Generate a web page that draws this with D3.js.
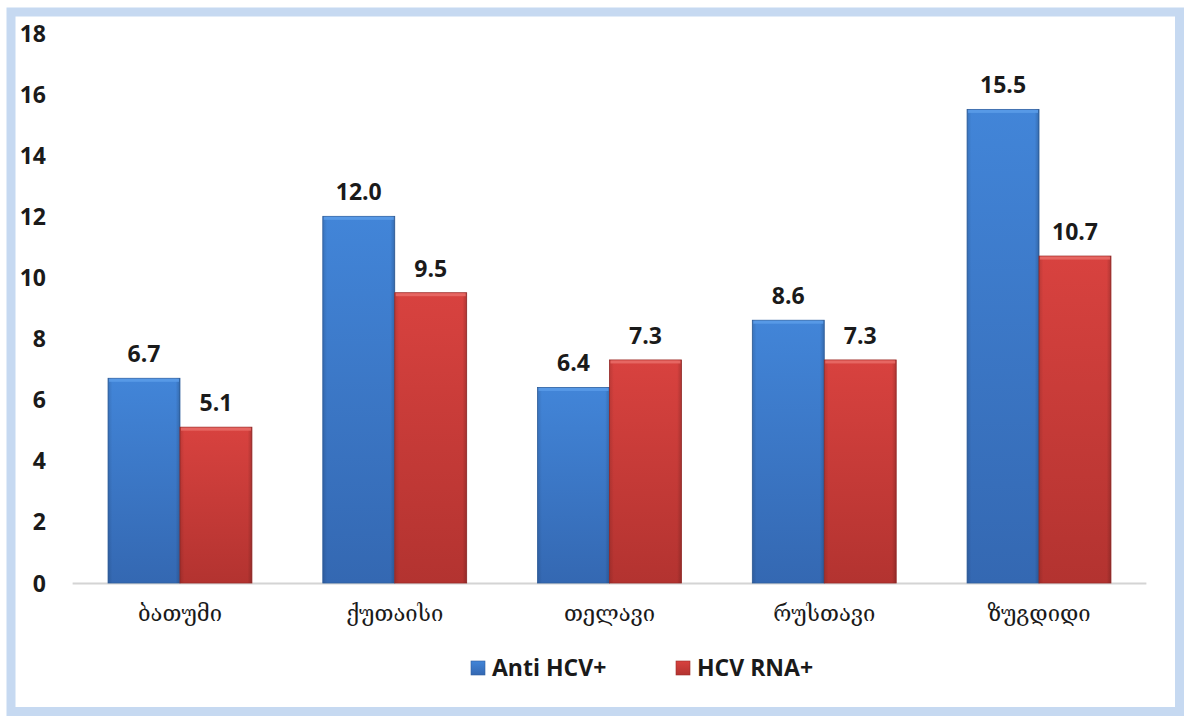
<!DOCTYPE html>
<html>
<head>
<meta charset="utf-8">
<script src="https://cdn.jsdelivr.net/npm/d3@7"></script>
<style>
  html, body { margin: 0; padding: 0; background: #ffffff; }
  svg { display: block; }
</style>
</head>
<body>
<svg id="chart" width="1184" height="716"></svg>
<script>
// Cities (Georgian names) and the two HCV indicators per city
const cities = ["ბათუმი", "ქუთაისი", "თელავი", "რუსთავი", "ზუგდიდი"];
const antiHcv = [6.7, 12.0, 6.4, 8.6, 15.5];
const hcvRna = [5.1, 9.5, 7.3, 7.3, 10.7];
const seriesNames = ["Anti HCV+", "HCV RNA+"];
const yTicks = [0, 2, 4, 6, 8, 10, 12, 14, 16, 18];

const svg = d3.select("#chart");
const W = 1184, H = 716;

// Light blue frame around the chart area
svg.append("rect")
  .attr("x", 11).attr("y", 12)
  .attr("width", W - 11 - 4.5).attr("height", H - 12 - 4.5)
  .attr("fill", "#ffffff")
  .attr("stroke", "#c6d9f1")
  .attr("stroke-width", 9);

const margin = { left: 72.6, right: 1146.4, top: 33, bottom: 583 };

const x0 = d3.scaleBand()
  .domain(cities)
  .range([margin.left, margin.right])
  .paddingInner(0.33)
  .paddingOuter(0.165);

const x1 = d3.scaleBand()
  .domain([0, 1])
  .range([0, x0.bandwidth()]);

const y = d3.scaleLinear()
  .domain([0, 18])
  .range([margin.bottom, margin.top]);

// Gradients giving the bars a bevelled look
const defs = svg.append("defs");
const palettes = [
  { id: "blue", light: "#5a9be8", mid: "#4285d8", dark: "#3468b2", edge: "#2f5f9e" },
  { id: "red",  light: "#e86a66", mid: "#d8423f", dark: "#b33330", edge: "#9c2c2a" }
];
palettes.forEach(p => {
  const g = defs.append("linearGradient")
    .attr("id", "grad-" + p.id)
    .attr("x1", 0).attr("y1", 0).attr("x2", 0).attr("y2", 1);
  g.append("stop").attr("offset", "0%").attr("stop-color", p.mid);
  g.append("stop").attr("offset", "100%").attr("stop-color", p.dark);

  const side = defs.append("linearGradient")
    .attr("id", "side-" + p.id)
    .attr("x1", 0).attr("y1", 0).attr("x2", 1).attr("y2", 0);
  side.append("stop").attr("offset", "0%").attr("stop-color", "#000").attr("stop-opacity", 0.12);
  side.append("stop").attr("offset", "6%").attr("stop-color", "#000").attr("stop-opacity", 0);
  side.append("stop").attr("offset", "94%").attr("stop-color", "#000").attr("stop-opacity", 0);
  side.append("stop").attr("offset", "100%").attr("stop-color", "#000").attr("stop-opacity", 0.18);
});

// Y axis tick labels
const labelFont = "'Open Sans', 'Liberation Sans', sans-serif";
const yAxis = d3.axisLeft(y).tickValues(yTicks).tickSize(0).tickPadding(0).tickFormat(d3.format("d"));
const yg = svg.append("g").attr("transform", "translate(46,0)").call(yAxis);
yg.select(".domain").remove();
yg.selectAll("text")
  .attr("font-family", labelFont)
  .attr("font-weight", "bold")
  .attr("font-size", 23)
  .attr("fill", "#1a1a1a")
  .attr("dy", "0.35em");

// Baseline
svg.append("line")
  .attr("x1", margin.left).attr("x2", margin.right)
  .attr("y1", y(0) + 0.5).attr("y2", y(0) + 0.5)
  .attr("stroke", "#d4d4d4").attr("stroke-width", 2);

// Bars
const data = cities.map((c, i) => ({ city: c, values: [antiHcv[i], hcvRna[i]] }));
const groups = svg.append("g").selectAll("g")
  .data(data).join("g")
  .attr("transform", d => `translate(${x0(d.city)},0)`);

const bars = groups.selectAll("g.bar")
  .data(d => d.values.map((v, k) => ({ v, k })))
  .join("g").attr("class", "bar");

bars.append("rect")
  .attr("x", d => x1(d.k))
  .attr("y", d => y(d.v))
  .attr("width", x1.bandwidth())
  .attr("height", d => y(0) - y(d.v))
  .attr("fill", d => `url(#grad-${palettes[d.k].id})`)
  .attr("stroke", d => palettes[d.k].edge)
  .attr("stroke-width", 0.8);

bars.append("rect")
  .attr("x", d => x1(d.k))
  .attr("y", d => y(d.v))
  .attr("width", x1.bandwidth())
  .attr("height", d => y(0) - y(d.v))
  .attr("fill", d => `url(#side-${palettes[d.k].id})`);

// Top bevel highlight
bars.append("rect")
  .attr("x", d => x1(d.k) + 1)
  .attr("y", d => y(d.v) + 0.5)
  .attr("width", x1.bandwidth() - 2)
  .attr("height", 3)
  .attr("fill", d => palettes[d.k].light)
  .attr("opacity", 0.9);

// Value labels
bars.append("text")
  .attr("x", d => x1(d.k) + x1.bandwidth() / 2)
  .attr("y", d => y(d.v) - 16)
  .attr("text-anchor", "middle")
  .attr("font-family", labelFont)
  .attr("font-weight", "bold")
  .attr("font-size", 23)
  .attr("fill", "#1a1a1a")
  .text(d => d.v.toFixed(1));

// X axis category labels
const xAxis = d3.axisBottom(x0).tickSize(0).tickPadding(0);
const xg = svg.append("g").attr("transform", `translate(0,${y(0) + 22})`).call(xAxis);
xg.select(".domain").remove();
xg.selectAll("text")
  .attr("font-family", "'DejaVu Serif', 'DejaVu Sans', serif")
  .attr("font-size", 22)
  .attr("fill", "#1a1a1a")
  .attr("dy", "0.71em");

// Legend
const legend = svg.append("g");
const legendItems = [{ x: 471, k: 0 }, { x: 676, k: 1 }];
legendItems.forEach(item => {
  const p = palettes[item.k];
  legend.append("rect")
    .attr("x", item.x).attr("y", 661)
    .attr("width", 14).attr("height", 14)
    .attr("fill", `url(#grad-${p.id})`)
    .attr("stroke", p.edge).attr("stroke-width", 0.6);
  legend.append("text")
    .attr("x", item.x + 21).attr("y", 668)
    .attr("dy", "0.35em")
    .attr("font-family", labelFont)
    .attr("font-weight", "bold")
    .attr("font-size", 23)
    .attr("fill", "#1a1a1a")
    .text(seriesNames[item.k]);
});
</script>
</body>
</html>
